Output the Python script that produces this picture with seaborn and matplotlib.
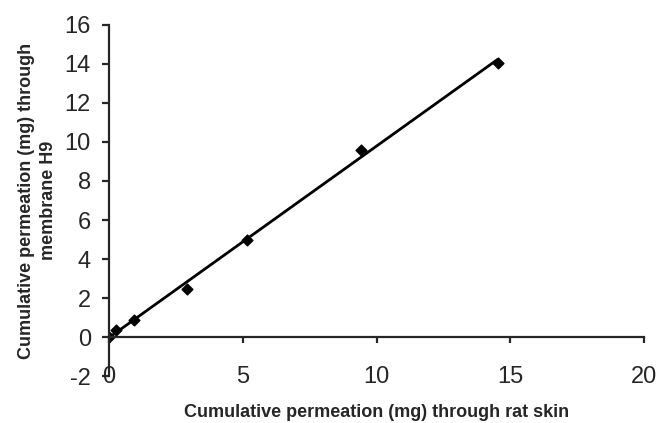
import numpy as np
import pandas as pd
import matplotlib
matplotlib.use("Agg")
import matplotlib.pyplot as plt
import seaborn as sns

# Werte
rat_skin = [0.0, 0.25, 0.94, 2.9, 5.16, 9.41, 14.53]
membrane_h9 = [0.0, 0.34, 0.89, 2.48, 5.0, 9.59, 14.07]
x_ticks = [0, 5, 10, 15, 20]
y_ticks = [-2, 0, 2, 4, 6, 8, 10, 12, 14, 16]

df = pd.DataFrame({"rat": rat_skin, "h9": membrane_h9})

sns.set_style("ticks")
plt.rcParams['font.family'] = ['Liberation Sans', 'DejaVu Sans']
plt.rcParams['axes.unicode_minus'] = False

fig = plt.figure(figsize=(6.6, 4.23), dpi=100)
ax = fig.add_axes([0.165, 0.111, 0.811, 0.830])

sns.regplot(
    x="rat",
    y="h9",
    data=df,
    ax=ax,
    ci=None,
    color="black",
    marker="D",
    scatter_kws={"s": 30, "alpha": 1},
    line_kws={"linewidth": 2})

ax.set_xlim(0, 20)
ax.set_ylim(-2, 16)
ax.set_xticks(x_ticks)
ax.set_yticks(y_ticks)

# x-Achse liegt bei y = 0
ax.spines["bottom"].set_position(("data", 0))
ax.spines["top"].set_visible(False)
ax.spines["right"].set_visible(False)
ax.spines["bottom"].set_linewidth(1.6)
ax.spines["left"].set_linewidth(1.6)

ax.tick_params(axis="x", length=4, width=1.6, pad=17, labelsize=17)
ax.tick_params(axis="y", length=5, width=1.6, pad=8, labelsize=17)

ax.set_xlabel("Cumulative permeation (mg) through rat skin",
              fontsize=13, fontweight="bold")
ax.set_ylabel("Cumulative permeation (mg) through\nmembrane H9",
              fontsize=13, fontweight="bold", linespacing=1.4)
ax.xaxis.set_label_coords(0.5, -0.08)
ax.yaxis.set_label_coords(-0.097, 0.5)

plt.savefig("out.png", dpi=100)
